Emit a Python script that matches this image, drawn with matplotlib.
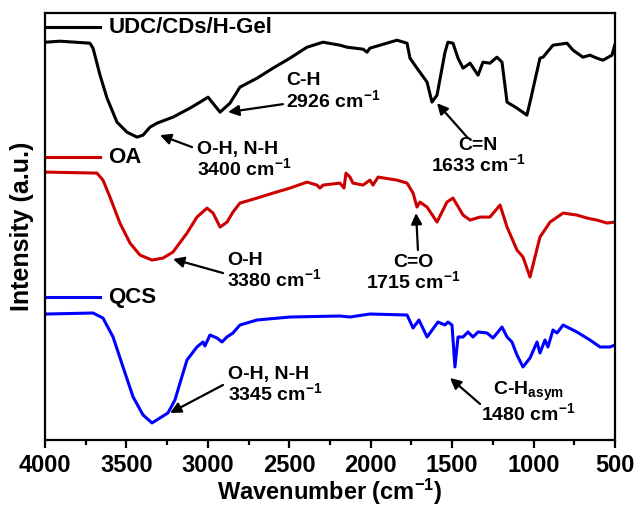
import numpy as np
import matplotlib
matplotlib.use("Agg")
import matplotlib.pyplot as plt

plt.rcParams["font.family"] = ["Liberation Sans", "DejaVu Sans"]
plt.rcParams["font.weight"] = "bold"
plt.rcParams["mathtext.default"] = "regular"

# wavenumber (cm-1) and intensity (a.u., offset stacked)
udc_wn = [3994, 3908, 3816, 3724, 3705, 3662, 3619, 3558, 3497, 3435, 3398, 3355,
          3312, 3214, 3110, 3048, 2999, 2925, 2864, 2803, 2698, 2600, 2496, 2391,
          2293, 2189, 2146, 2047, 2023, 2005, 1839, 1777, 1759, 1716, 1654, 1624,
          1593, 1544, 1526, 1495, 1464, 1433, 1390, 1341, 1311, 1268, 1225, 1194,
          1163, 1102, 1041, 1022, 961, 942, 881, 795, 758, 697, 654, 611, 574, 519, 502]
udc_int = [398, 399, 398, 397, 392, 365, 342, 318, 308, 303, 305, 313,
           317, 323, 332, 338, 343, 328, 337, 353, 362, 372, 382, 393,
           398, 395, 393, 391, 388, 392, 400, 397, 382, 372, 358, 338,
           345, 388, 398, 397, 382, 372, 377, 365, 378, 377, 383, 378,
           338, 332, 325, 338, 382, 383, 395, 397, 390, 383, 385, 382, 380, 385, 395]

oa_wn = [3988, 3681, 3644, 3601, 3540, 3478, 3417, 3343, 3275, 3214, 3128, 3067,
         3005, 2968, 2925, 2882, 2846, 2803, 2698, 2600, 2496, 2391, 2330, 2312,
         2293, 2189, 2164, 2152, 2127, 2109, 2047, 2005, 1986, 1955, 1839, 1777,
         1740, 1716, 1698, 1654, 1593, 1532, 1495, 1433, 1390, 1329, 1268, 1206,
         1163, 1102, 1065, 1022, 961, 899, 819, 734, 672, 611, 549, 502]
oa_int = [268, 267, 260, 243, 217, 197, 185, 180, 182, 188, 207, 223,
          232, 227, 213, 218, 228, 237, 242, 247, 252, 258, 255, 252,
          255, 257, 252, 267, 263, 257, 255, 260, 255, 263, 260, 257,
          247, 233, 238, 233, 218, 238, 242, 225, 220, 223, 223, 235,
          213, 190, 183, 163, 203, 218, 227, 225, 222, 220, 217, 218]

qcs_wn = [3988, 3705, 3644, 3582, 3521, 3459, 3398, 3343, 3294, 3245, 3202, 3171,
          3128, 3067, 3030, 3018, 2987, 2944, 2913, 2883, 2846, 2803, 2698, 2496,
          2189, 2127, 2005, 1777, 1740, 1704, 1654, 1587, 1544, 1526, 1501, 1483,
          1464, 1433, 1403, 1372, 1341, 1286, 1249, 1194, 1163, 1133, 1102, 1065,
          1022, 979, 961, 930, 912, 881, 856, 819, 734, 654, 592, 531, 500]
qcs_int = [126, 127, 122, 103, 73, 43, 25, 17, 22, 27, 40, 57,
           80, 93, 98, 94, 105, 102, 98, 103, 107, 115, 120, 123,
           124, 123, 126, 125, 112, 120, 103, 118, 115, 118, 115, 73,
           103, 103, 108, 103, 108, 107, 102, 113, 103, 98, 85, 73,
           82, 98, 87, 100, 93, 110, 107, 115, 108, 100, 93, 93, 95]

series_names = ["UDC/CDs/H-Gel", "OA", "QCS"]
series_colors = ["black", "#cc0000", "#0000ff"]
legend_y = [413, 283, 143]

fig = plt.figure(figsize=(6.38, 5.08), dpi=100)
ax = fig.add_axes([0.0705, 0.134, 0.8935, 0.840])

for wn, inten, c in zip([udc_wn, oa_wn, qcs_wn], [udc_int, oa_int, qcs_int], series_colors):
    ax.plot(wn, inten, color=c, lw=2.2)

# in-plot labels next to each trace
tr = ax.get_yaxis_transform()
for name, c, y in zip(series_names, series_colors, legend_y):
    ax.plot([0.0, 0.096], [y, y], color=c, lw=2.2, transform=tr, clip_on=False)
    ax.text(0.111, y, name, transform=tr, fontsize=16, fontweight="bold",
            va="center", ha="left")

arrow = dict(arrowstyle="-|>", color="black", lw=1.6, mutation_scale=16,
             shrinkA=0, shrinkB=0)
notes = [
    ("C-H\n2926 cm$^{-1}$", (2520, 349), (2539, 336), (2876, 328), "left"),
    ("O-H, N-H\n3400 cm$^{-1}$", (3067, 280), (3097, 293), (3294, 305), "left"),
    ("C=N\n1633 cm$^{-1}$", (1341, 284), (1403, 302), (1593, 337), "center"),
    ("O-H\n3380 cm$^{-1}$", (2883, 169), (2907, 167), (3214, 181), "left"),
    ("C=O\n1715 cm$^{-1}$", (1740, 167), (1710, 190), (1722, 227), "center"),
    ("O-H, N-H\n3345 cm$^{-1}$", (2876, 55), (2907, 55), (3232, 27), "left"),
    ("C-H$_{asym}$\n1480 cm$^{-1}$", (1034, 38), (1329, 36), (1513, 62), "center"),
]
for txt, pos, tail, head, ha in notes:
    ax.text(pos[0], pos[1], txt, fontsize=14, fontweight="bold", ha=ha,
            va="center", multialignment=ha, linespacing=1.0)
    ax.annotate("", xy=head, xytext=tail, arrowprops=arrow)

ax.set_xlim(4000, 500)
ax.set_ylim(0, 427)
ax.set_xticks(np.arange(4000, 499, -500))
ax.set_xticks(np.arange(3750, 500, -500), minor=True)
ax.set_yticks([])
ax.tick_params(axis="x", which="major", length=6, width=1.6, labelsize=17, pad=4)
ax.tick_params(axis="x", which="minor", length=3.5, width=1.6)
for lab in ax.get_xticklabels():
    lab.set_fontweight("bold")
for s in ax.spines.values():
    s.set_linewidth(1.6)

ax.set_xlabel("Wavenumber (cm$^{-1}$)", fontsize=17, fontweight="bold", labelpad=0)
ax.set_ylabel("Intensity (a.u.)", fontsize=18, fontweight="bold", labelpad=8)

fig.savefig("out.png", dpi=100)
